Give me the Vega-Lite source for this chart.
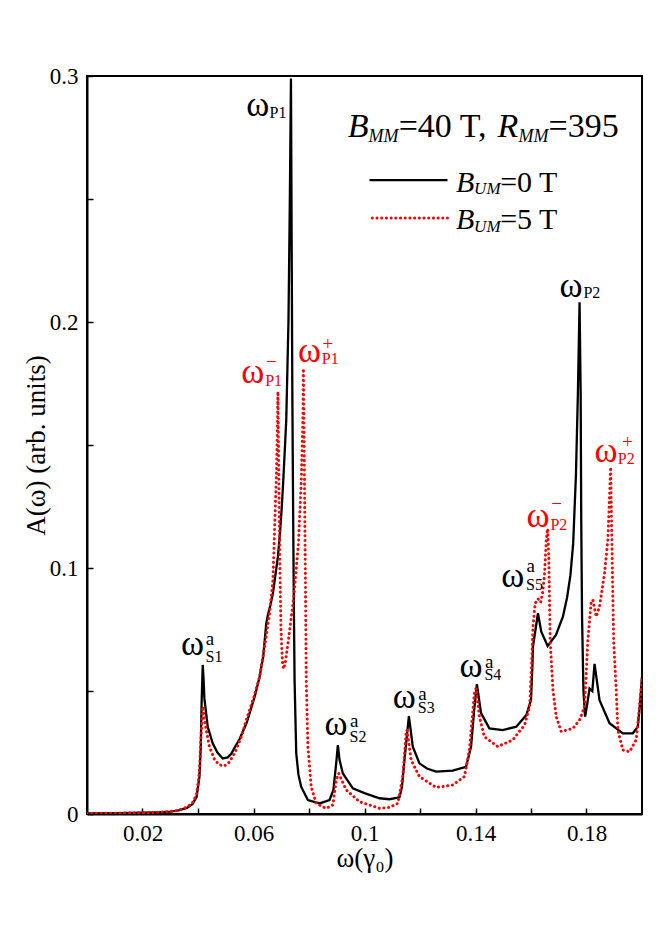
{
  "$schema": "https://vega.github.io/schema/vega-lite/v6.json",
  "width": 555,
  "height": 738,
  "autosize": "none",
  "padding": {"left": 87, "top": 76, "right": 23, "bottom": 126},
  "background": "white",
  "config": {
    "view": {"stroke": "black", "strokeWidth": 2},
    "font": "Liberation Serif",
    "text": {"font": "Liberation Serif", "align": "left", "baseline": "alphabetic"}
  },
  "datasets": {
    "curves": [
      {"x": 0, "y": 0.0002, "series": "0 T"},
      {"x": 0.01, "y": 0.0003, "series": "0 T"},
      {"x": 0.02, "y": 0.0005, "series": "0 T"},
      {"x": 0.025, "y": 0.0007, "series": "0 T"},
      {"x": 0.03, "y": 0.001, "series": "0 T"},
      {"x": 0.033, "y": 0.0015, "series": "0 T"},
      {"x": 0.036, "y": 0.0025, "series": "0 T"},
      {"x": 0.038, "y": 0.004, "series": "0 T"},
      {"x": 0.0395, "y": 0.007, "series": "0 T"},
      {"x": 0.0405, "y": 0.015, "series": "0 T"},
      {"x": 0.041, "y": 0.027, "series": "0 T"},
      {"x": 0.0413, "y": 0.045, "series": "0 T"},
      {"x": 0.0417, "y": 0.0606, "series": "0 T"},
      {"x": 0.042, "y": 0.055, "series": "0 T"},
      {"x": 0.0423, "y": 0.047, "series": "0 T"},
      {"x": 0.0435, "y": 0.0355, "series": "0 T"},
      {"x": 0.0453, "y": 0.0287, "series": "0 T"},
      {"x": 0.047, "y": 0.025, "series": "0 T"},
      {"x": 0.0489, "y": 0.0226, "series": "0 T"},
      {"x": 0.0507, "y": 0.023, "series": "0 T"},
      {"x": 0.052, "y": 0.0245, "series": "0 T"},
      {"x": 0.0532, "y": 0.027, "series": "0 T"},
      {"x": 0.055, "y": 0.0305, "series": "0 T"},
      {"x": 0.0575, "y": 0.037, "series": "0 T"},
      {"x": 0.0586, "y": 0.041, "series": "0 T"},
      {"x": 0.0605, "y": 0.048, "series": "0 T"},
      {"x": 0.0622, "y": 0.0558, "series": "0 T"},
      {"x": 0.0635, "y": 0.064, "series": "0 T"},
      {"x": 0.0646, "y": 0.0775, "series": "0 T"},
      {"x": 0.0652, "y": 0.081, "series": "0 T"},
      {"x": 0.066, "y": 0.0845, "series": "0 T"},
      {"x": 0.067, "y": 0.0897, "series": "0 T"},
      {"x": 0.0688, "y": 0.1046, "series": "0 T"},
      {"x": 0.0696, "y": 0.115, "series": "0 T"},
      {"x": 0.0702, "y": 0.125, "series": "0 T"},
      {"x": 0.0708, "y": 0.137, "series": "0 T"},
      {"x": 0.0718, "y": 0.16, "series": "0 T"},
      {"x": 0.0726, "y": 0.2, "series": "0 T"},
      {"x": 0.0731, "y": 0.25, "series": "0 T"},
      {"x": 0.0735, "y": 0.299, "series": "0 T"},
      {"x": 0.0738, "y": 0.22, "series": "0 T"},
      {"x": 0.074, "y": 0.17, "series": "0 T"},
      {"x": 0.0742, "y": 0.136, "series": "0 T"},
      {"x": 0.0745, "y": 0.09, "series": "0 T"},
      {"x": 0.0748, "y": 0.0545, "series": "0 T"},
      {"x": 0.0754, "y": 0.0247, "series": "0 T"},
      {"x": 0.0762, "y": 0.016, "series": "0 T"},
      {"x": 0.0772, "y": 0.011, "series": "0 T"},
      {"x": 0.0796, "y": 0.0057, "series": "0 T"},
      {"x": 0.0838, "y": 0.0043, "series": "0 T"},
      {"x": 0.0874, "y": 0.0057, "series": "0 T"},
      {"x": 0.0888, "y": 0.0098, "series": "0 T"},
      {"x": 0.0898, "y": 0.0206, "series": "0 T"},
      {"x": 0.0904, "y": 0.028, "series": "0 T"},
      {"x": 0.091, "y": 0.022, "series": "0 T"},
      {"x": 0.0922, "y": 0.0165, "series": "0 T"},
      {"x": 0.0958, "y": 0.0104, "series": "0 T"},
      {"x": 0.1, "y": 0.0085, "series": "0 T"},
      {"x": 0.1054, "y": 0.0064, "series": "0 T"},
      {"x": 0.109, "y": 0.006, "series": "0 T"},
      {"x": 0.1126, "y": 0.0068, "series": "0 T"},
      {"x": 0.1135, "y": 0.011, "series": "0 T"},
      {"x": 0.1144, "y": 0.022, "series": "0 T"},
      {"x": 0.116, "y": 0.0398, "series": "0 T"},
      {"x": 0.1174, "y": 0.0274, "series": "0 T"},
      {"x": 0.1198, "y": 0.0206, "series": "0 T"},
      {"x": 0.1225, "y": 0.0185, "series": "0 T"},
      {"x": 0.1258, "y": 0.0172, "series": "0 T"},
      {"x": 0.1318, "y": 0.0176, "series": "0 T"},
      {"x": 0.1366, "y": 0.0192, "series": "0 T"},
      {"x": 0.1384, "y": 0.0274, "series": "0 T"},
      {"x": 0.1395, "y": 0.042, "series": "0 T"},
      {"x": 0.1405, "y": 0.0528, "series": "0 T"},
      {"x": 0.142, "y": 0.041, "series": "0 T"},
      {"x": 0.145, "y": 0.0348, "series": "0 T"},
      {"x": 0.1498, "y": 0.0341, "series": "0 T"},
      {"x": 0.1547, "y": 0.0355, "series": "0 T"},
      {"x": 0.1583, "y": 0.0402, "series": "0 T"},
      {"x": 0.16, "y": 0.0463, "series": "0 T"},
      {"x": 0.1605, "y": 0.06, "series": "0 T"},
      {"x": 0.1607, "y": 0.068, "series": "0 T"},
      {"x": 0.1625, "y": 0.0816, "series": "0 T"},
      {"x": 0.1637, "y": 0.0741, "series": "0 T"},
      {"x": 0.166, "y": 0.0683, "series": "0 T"},
      {"x": 0.169, "y": 0.0728, "series": "0 T"},
      {"x": 0.1715, "y": 0.0802, "series": "0 T"},
      {"x": 0.173, "y": 0.088, "series": "0 T"},
      {"x": 0.1742, "y": 0.097, "series": "0 T"},
      {"x": 0.1752, "y": 0.11, "series": "0 T"},
      {"x": 0.1762, "y": 0.138, "series": "0 T"},
      {"x": 0.1769, "y": 0.171, "series": "0 T"},
      {"x": 0.1775, "y": 0.208, "series": "0 T"},
      {"x": 0.1779, "y": 0.17, "series": "0 T"},
      {"x": 0.1781, "y": 0.12, "series": "0 T"},
      {"x": 0.1784, "y": 0.08, "series": "0 T"},
      {"x": 0.1789, "y": 0.05, "series": "0 T"},
      {"x": 0.1795, "y": 0.0396, "series": "0 T"},
      {"x": 0.1803, "y": 0.045, "series": "0 T"},
      {"x": 0.1811, "y": 0.051, "series": "0 T"},
      {"x": 0.1821, "y": 0.05, "series": "0 T"},
      {"x": 0.1829, "y": 0.061, "series": "0 T"},
      {"x": 0.1847, "y": 0.0463, "series": "0 T"},
      {"x": 0.1883, "y": 0.0369, "series": "0 T"},
      {"x": 0.1931, "y": 0.0328, "series": "0 T"},
      {"x": 0.1967, "y": 0.0328, "series": "0 T"},
      {"x": 0.1985, "y": 0.0355, "series": "0 T"},
      {"x": 0.1993, "y": 0.045, "series": "0 T"},
      {"x": 0.2, "y": 0.056, "series": "0 T"},

      {"x": 0, "y": 0.0002, "series": "5 T"},
      {"x": 0.01, "y": 0.0003, "series": "5 T"},
      {"x": 0.02, "y": 0.0005, "series": "5 T"},
      {"x": 0.025, "y": 0.0007, "series": "5 T"},
      {"x": 0.03, "y": 0.001, "series": "5 T"},
      {"x": 0.033, "y": 0.0015, "series": "5 T"},
      {"x": 0.036, "y": 0.0028, "series": "5 T"},
      {"x": 0.038, "y": 0.0045, "series": "5 T"},
      {"x": 0.0395, "y": 0.008, "series": "5 T"},
      {"x": 0.0405, "y": 0.017, "series": "5 T"},
      {"x": 0.041, "y": 0.03, "series": "5 T"},
      {"x": 0.0417, "y": 0.0436, "series": "5 T"},
      {"x": 0.0425, "y": 0.037, "series": "5 T"},
      {"x": 0.0441, "y": 0.0274, "series": "5 T"},
      {"x": 0.046, "y": 0.022, "series": "5 T"},
      {"x": 0.0477, "y": 0.02, "series": "5 T"},
      {"x": 0.0495, "y": 0.0195, "series": "5 T"},
      {"x": 0.0512, "y": 0.021, "series": "5 T"},
      {"x": 0.0532, "y": 0.0247, "series": "5 T"},
      {"x": 0.0555, "y": 0.031, "series": "5 T"},
      {"x": 0.0574, "y": 0.0382, "series": "5 T"},
      {"x": 0.06, "y": 0.047, "series": "5 T"},
      {"x": 0.0622, "y": 0.0558, "series": "5 T"},
      {"x": 0.064, "y": 0.068, "series": "5 T"},
      {"x": 0.0658, "y": 0.0816, "series": "5 T"},
      {"x": 0.067, "y": 0.095, "series": "5 T"},
      {"x": 0.0676, "y": 0.1154, "series": "5 T"},
      {"x": 0.0682, "y": 0.136, "series": "5 T"},
      {"x": 0.0686, "y": 0.155, "series": "5 T"},
      {"x": 0.0688, "y": 0.1717, "series": "5 T"},
      {"x": 0.0691, "y": 0.14, "series": "5 T"},
      {"x": 0.0695, "y": 0.1, "series": "5 T"},
      {"x": 0.0699, "y": 0.075, "series": "5 T"},
      {"x": 0.0704, "y": 0.062, "series": "5 T"},
      {"x": 0.0708, "y": 0.059, "series": "5 T"},
      {"x": 0.0714, "y": 0.061, "series": "5 T"},
      {"x": 0.0725, "y": 0.07, "series": "5 T"},
      {"x": 0.0745, "y": 0.088, "series": "5 T"},
      {"x": 0.0762, "y": 0.11, "series": "5 T"},
      {"x": 0.0772, "y": 0.135, "series": "5 T"},
      {"x": 0.0778, "y": 0.16, "series": "5 T"},
      {"x": 0.078, "y": 0.181, "series": "5 T"},
      {"x": 0.0784, "y": 0.13, "series": "5 T"},
      {"x": 0.0787, "y": 0.095, "series": "5 T"},
      {"x": 0.079, "y": 0.0545, "series": "5 T"},
      {"x": 0.0796, "y": 0.0274, "series": "5 T"},
      {"x": 0.0808, "y": 0.011, "series": "5 T"},
      {"x": 0.0826, "y": 0.0043, "series": "5 T"},
      {"x": 0.0862, "y": 0.0023, "series": "5 T"},
      {"x": 0.0886, "y": 0.0037, "series": "5 T"},
      {"x": 0.0898, "y": 0.0138, "series": "5 T"},
      {"x": 0.0907, "y": 0.0165, "series": "5 T"},
      {"x": 0.0934, "y": 0.0098, "series": "5 T"},
      {"x": 0.0982, "y": 0.005, "series": "5 T"},
      {"x": 0.1054, "y": 0.0023, "series": "5 T"},
      {"x": 0.109, "y": 0.0027, "series": "5 T"},
      {"x": 0.112, "y": 0.0043, "series": "5 T"},
      {"x": 0.1138, "y": 0.0152, "series": "5 T"},
      {"x": 0.115, "y": 0.0328, "series": "5 T"},
      {"x": 0.1153, "y": 0.0341, "series": "5 T"},
      {"x": 0.1168, "y": 0.022, "series": "5 T"},
      {"x": 0.1198, "y": 0.0152, "series": "5 T"},
      {"x": 0.1258, "y": 0.0108, "series": "5 T"},
      {"x": 0.1318, "y": 0.0118, "series": "5 T"},
      {"x": 0.136, "y": 0.0152, "series": "5 T"},
      {"x": 0.1378, "y": 0.026, "series": "5 T"},
      {"x": 0.1396, "y": 0.049, "series": "5 T"},
      {"x": 0.1402, "y": 0.0511, "series": "5 T"},
      {"x": 0.1414, "y": 0.0396, "series": "5 T"},
      {"x": 0.1432, "y": 0.0314, "series": "5 T"},
      {"x": 0.148, "y": 0.0274, "series": "5 T"},
      {"x": 0.1534, "y": 0.0301, "series": "5 T"},
      {"x": 0.1577, "y": 0.0362, "series": "5 T"},
      {"x": 0.1595, "y": 0.0436, "series": "5 T"},
      {"x": 0.1602, "y": 0.06, "series": "5 T"},
      {"x": 0.1607, "y": 0.0761, "series": "5 T"},
      {"x": 0.1615, "y": 0.0856, "series": "5 T"},
      {"x": 0.1625, "y": 0.0875, "series": "5 T"},
      {"x": 0.1635, "y": 0.086, "series": "5 T"},
      {"x": 0.1642, "y": 0.09, "series": "5 T"},
      {"x": 0.1649, "y": 0.0978, "series": "5 T"},
      {"x": 0.1655, "y": 0.1114, "series": "5 T"},
      {"x": 0.166, "y": 0.116, "series": "5 T"},
      {"x": 0.1664, "y": 0.1046, "series": "5 T"},
      {"x": 0.1669, "y": 0.0707, "series": "5 T"},
      {"x": 0.1679, "y": 0.0504, "series": "5 T"},
      {"x": 0.1691, "y": 0.0396, "series": "5 T"},
      {"x": 0.1709, "y": 0.0335, "series": "5 T"},
      {"x": 0.1751, "y": 0.0348, "series": "5 T"},
      {"x": 0.1775, "y": 0.0382, "series": "5 T"},
      {"x": 0.1793, "y": 0.0436, "series": "5 T"},
      {"x": 0.1799, "y": 0.0572, "series": "5 T"},
      {"x": 0.1805, "y": 0.0707, "series": "5 T"},
      {"x": 0.1817, "y": 0.0863, "series": "5 T"},
      {"x": 0.1823, "y": 0.087, "series": "5 T"},
      {"x": 0.1835, "y": 0.0802, "series": "5 T"},
      {"x": 0.1847, "y": 0.0843, "series": "5 T"},
      {"x": 0.1865, "y": 0.0978, "series": "5 T"},
      {"x": 0.1877, "y": 0.1114, "series": "5 T"},
      {"x": 0.1887, "y": 0.141, "series": "5 T"},
      {"x": 0.1893, "y": 0.1, "series": "5 T"},
      {"x": 0.1898, "y": 0.07, "series": "5 T"},
      {"x": 0.1907, "y": 0.0504, "series": "5 T"},
      {"x": 0.1913, "y": 0.034, "series": "5 T"},
      {"x": 0.1931, "y": 0.026, "series": "5 T"},
      {"x": 0.1955, "y": 0.0253, "series": "5 T"},
      {"x": 0.1979, "y": 0.0301, "series": "5 T"},
      {"x": 0.1991, "y": 0.0436, "series": "5 T"},
      {"x": 0.2, "y": 0.055, "series": "5 T"}
    ],
    "leg": [
      {"x": 0.1018, "y": 0.2577, "series": "0 T"},
      {"x": 0.1299, "y": 0.2577, "series": "0 T"},
      {"x": 0.1028, "y": 0.2423, "series": "5 T"},
      {"x": 0.1299, "y": 0.2423, "series": "5 T"}
    ],
    "notes": [
      {"x": 0.0574, "y": 0.2837, "t": "ω", "kind": "om", "series": "0 T"},
      {"x": 0.0658, "y": 0.2829, "t": "P1", "kind": "sub", "series": "0 T"},
      {"x": 0.0556, "y": 0.1751, "t": "ω", "kind": "om", "series": "5 T"},
      {"x": 0.0642, "y": 0.174, "t": "P1", "kind": "sub", "series": "5 T"},
      {"x": 0.0645, "y": 0.1813, "t": "−", "kind": "sup", "series": "5 T"},
      {"x": 0.076, "y": 0.1839, "t": "ω", "kind": "om", "series": "5 T"},
      {"x": 0.0846, "y": 0.1829, "t": "P1", "kind": "sub", "series": "5 T"},
      {"x": 0.0849, "y": 0.1886, "t": "+", "kind": "sup", "series": "5 T"},
      {"x": 0.0339, "y": 0.0646, "t": "ω", "kind": "om", "series": "0 T"},
      {"x": 0.0427, "y": 0.0619, "t": "S1", "kind": "sub", "series": "0 T"},
      {"x": 0.0428, "y": 0.0687, "t": "a", "kind": "sup", "series": "0 T"},
      {"x": 0.0856, "y": 0.0321, "t": "ω", "kind": "om", "series": "0 T"},
      {"x": 0.0946, "y": 0.0294, "t": "S2", "kind": "sub", "series": "0 T"},
      {"x": 0.0948, "y": 0.0355, "t": "a", "kind": "sup", "series": "0 T"},
      {"x": 0.1102, "y": 0.043, "t": "ω", "kind": "om", "series": "0 T"},
      {"x": 0.1192, "y": 0.0412, "t": "S3", "kind": "sub", "series": "0 T"},
      {"x": 0.1194, "y": 0.0463, "t": "a", "kind": "sup", "series": "0 T"},
      {"x": 0.1342, "y": 0.0558, "t": "ω", "kind": "om", "series": "0 T"},
      {"x": 0.1432, "y": 0.0545, "t": "S4", "kind": "sub", "series": "0 T"},
      {"x": 0.1434, "y": 0.0592, "t": "a", "kind": "sup", "series": "0 T"},
      {"x": 0.1493, "y": 0.0924, "t": "ω", "kind": "om", "series": "0 T"},
      {"x": 0.1582, "y": 0.0911, "t": "S5", "kind": "sub", "series": "0 T"},
      {"x": 0.1584, "y": 0.0985, "t": "a", "kind": "sup", "series": "0 T"},
      {"x": 0.1703, "y": 0.21, "t": "ω", "kind": "om", "series": "0 T"},
      {"x": 0.1789, "y": 0.2096, "t": "P2", "kind": "sub", "series": "0 T"},
      {"x": 0.1829, "y": 0.1432, "t": "ω", "kind": "om", "series": "5 T"},
      {"x": 0.1913, "y": 0.1423, "t": "P2", "kind": "sub", "series": "5 T"},
      {"x": 0.1929, "y": 0.1488, "t": "+", "kind": "sup", "series": "5 T"},
      {"x": 0.1584, "y": 0.1167, "t": "ω", "kind": "om", "series": "5 T"},
      {"x": 0.167, "y": 0.1154, "t": "P2", "kind": "sub", "series": "5 T"},
      {"x": 0.1673, "y": 0.1236, "t": "−", "kind": "sup", "series": "5 T"},
      {"x": 0.094, "y": 0.2753, "t": "B", "kind": "ti", "series": "0 T"},
      {"x": 0.1014, "y": 0.2733, "t": "MM", "kind": "ts", "series": "0 T"},
      {"x": 0.1123, "y": 0.2753, "t": "=40 T,", "kind": "tn", "series": "0 T"},
      {"x": 0.1479, "y": 0.2753, "t": "R", "kind": "ti", "series": "0 T"},
      {"x": 0.1555, "y": 0.2733, "t": "MM", "kind": "ts", "series": "0 T"},
      {"x": 0.1663, "y": 0.2753, "t": "=395", "kind": "tn", "series": "0 T"},
      {"x": 0.133, "y": 0.253, "t": "B", "kind": "li", "series": "0 T"},
      {"x": 0.1395, "y": 0.252, "t": "UM", "kind": "ls", "series": "0 T"},
      {"x": 0.1489, "y": 0.253, "t": "=0 T", "kind": "ln", "series": "0 T"},
      {"x": 0.133, "y": 0.2377, "t": "B", "kind": "li", "series": "0 T"},
      {"x": 0.1395, "y": 0.2367, "t": "UM", "kind": "ls", "series": "0 T"},
      {"x": 0.1489, "y": 0.2377, "t": "=5 T", "kind": "ln", "series": "0 T"}
    ]
  },
  "layer": [
    {
      "data": {"name": "curves"},
      "transform": [{"filter": "datum.series == '0 T'"}],
      "mark": {"type": "line", "color": "black", "strokeWidth": 2.3, "clip": true},
      "encoding": {
        "x": {
          "field": "x", "type": "quantitative",
          "scale": {"domain": [0, 0.2], "nice": false, "zero": false},
          "axis": {
            "title": "ω(γ₀)",
            "values": [0.02, 0.04, 0.06, 0.08, 0.1, 0.12, 0.14, 0.16, 0.18],
            "format": ".2~f",
            "labelExpr": "(round(datum.value*100) % 4 == 2) ? datum.label : ''",
            "grid": false,
            "domainColor": "black",
            "domainWidth": 2,
            "tickColor": "black",
            "tickWidth": 1.5,
            "tickSize": -6,
            "labelColor": "black",
            "labelFont": "Liberation Serif",
            "labelFontSize": 23,
            "labelOverlap": false,
            "labelFlush": false,
            "labelPadding": 14,
            "titleFont": "Liberation Serif",
            "titleFontSize": 27,
            "titleFontWeight": "normal",
            "titleColor": "black",
            "titlePadding": 0
          }
        },
        "y": {
          "field": "y", "type": "quantitative",
          "scale": {"domain": [0, 0.3], "nice": false, "zero": false},
          "axis": {
            "title": "A(ω) (arb. units)",
            "values": [0, 0.05, 0.1, 0.15, 0.2, 0.25, 0.3],
            "format": ".1~f",
            "labelExpr": "(round(datum.value*100) % 10 == 0) ? datum.label : ''",
            "grid": false,
            "domainColor": "black",
            "domainWidth": 2,
            "tickColor": "black",
            "tickWidth": 1.5,
            "tickSize": -6,
            "labelColor": "black",
            "labelFont": "Liberation Serif",
            "labelFontSize": 23,
            "labelOverlap": false,
            "labelFlush": false,
            "labelPadding": 15,
            "titleFont": "Liberation Serif",
            "titleFontSize": 27,
            "titleFontWeight": "normal",
            "titleColor": "black",
            "titlePadding": -1
          }
        }
      }
    },
    {
      "data": {"name": "curves"},
      "transform": [{"filter": "datum.series == '5 T'"}],
      "mark": {"type": "line", "color": "#ff0000", "strokeWidth": 3, "strokeDash": [0.1, 4.6], "strokeCap": "round", "clip": true},
      "encoding": {
        "x": {"field": "x", "type": "quantitative"},
        "y": {"field": "y", "type": "quantitative"}
      }
    },
    {
      "data": {"name": "leg"},
      "transform": [{"filter": "datum.series == '0 T'"}],
      "mark": {"type": "line", "color": "black", "strokeWidth": 2.3},
      "encoding": {
        "x": {"field": "x", "type": "quantitative"},
        "y": {"field": "y", "type": "quantitative"}
      }
    },
    {
      "data": {"name": "leg"},
      "transform": [{"filter": "datum.series == '5 T'"}],
      "mark": {"type": "line", "color": "#ff0000", "strokeWidth": 3, "strokeDash": [0.1, 4.6], "strokeCap": "round"},
      "encoding": {
        "x": {"field": "x", "type": "quantitative"},
        "y": {"field": "y", "type": "quantitative"}
      }
    },
    {
      "data": {"name": "notes"},
      "transform": [{"filter": "datum.kind == 'om'"}],
      "mark": {"type": "text", "fontSize": 35, "font": "Liberation Serif"},
      "encoding": {
        "x": {"field": "x", "type": "quantitative"},
        "y": {"field": "y", "type": "quantitative"},
        "text": {"field": "t"},
        "color": {"field": "series", "type": "nominal", "scale": {"domain": ["0 T", "5 T"], "range": ["black", "#ff0000"]}, "legend": null}
      }
    },
    {
      "data": {"name": "notes"},
      "transform": [{"filter": "datum.kind == 'sub'"}],
      "mark": {"type": "text", "fontSize": 16, "font": "Liberation Serif"},
      "encoding": {
        "x": {"field": "x", "type": "quantitative"},
        "y": {"field": "y", "type": "quantitative"},
        "text": {"field": "t"},
        "color": {"field": "series", "type": "nominal", "legend": null}
      }
    },
    {
      "data": {"name": "notes"},
      "transform": [{"filter": "datum.kind == 'sup'"}],
      "mark": {"type": "text", "fontSize": 19, "font": "Liberation Serif"},
      "encoding": {
        "x": {"field": "x", "type": "quantitative"},
        "y": {"field": "y", "type": "quantitative"},
        "text": {"field": "t"},
        "color": {"field": "series", "type": "nominal", "legend": null}
      }
    },
    {
      "data": {"name": "notes"},
      "transform": [{"filter": "datum.kind == 'ti'"}],
      "mark": {"type": "text", "fontSize": 34, "fontStyle": "italic", "color": "black", "font": "Liberation Serif"},
      "encoding": {
        "x": {"field": "x", "type": "quantitative"},
        "y": {"field": "y", "type": "quantitative"},
        "text": {"field": "t"}
      }
    },
    {
      "data": {"name": "notes"},
      "transform": [{"filter": "datum.kind == 'ts'"}],
      "mark": {"type": "text", "fontSize": 18, "fontStyle": "italic", "color": "black", "font": "Liberation Serif"},
      "encoding": {
        "x": {"field": "x", "type": "quantitative"},
        "y": {"field": "y", "type": "quantitative"},
        "text": {"field": "t"}
      }
    },
    {
      "data": {"name": "notes"},
      "transform": [{"filter": "datum.kind == 'tn'"}],
      "mark": {"type": "text", "fontSize": 34, "color": "black", "font": "Liberation Serif"},
      "encoding": {
        "x": {"field": "x", "type": "quantitative"},
        "y": {"field": "y", "type": "quantitative"},
        "text": {"field": "t"}
      }
    },
    {
      "data": {"name": "notes"},
      "transform": [{"filter": "datum.kind == 'li'"}],
      "mark": {"type": "text", "fontSize": 30, "fontStyle": "italic", "color": "black", "font": "Liberation Serif"},
      "encoding": {
        "x": {"field": "x", "type": "quantitative"},
        "y": {"field": "y", "type": "quantitative"},
        "text": {"field": "t"}
      }
    },
    {
      "data": {"name": "notes"},
      "transform": [{"filter": "datum.kind == 'ls'"}],
      "mark": {"type": "text", "fontSize": 17, "fontStyle": "italic", "color": "black", "font": "Liberation Serif"},
      "encoding": {
        "x": {"field": "x", "type": "quantitative"},
        "y": {"field": "y", "type": "quantitative"},
        "text": {"field": "t"}
      }
    },
    {
      "data": {"name": "notes"},
      "transform": [{"filter": "datum.kind == 'ln'"}],
      "mark": {"type": "text", "fontSize": 30, "color": "black", "font": "Liberation Serif"},
      "encoding": {
        "x": {"field": "x", "type": "quantitative"},
        "y": {"field": "y", "type": "quantitative"},
        "text": {"field": "t"}
      }
    }
  ]
}
